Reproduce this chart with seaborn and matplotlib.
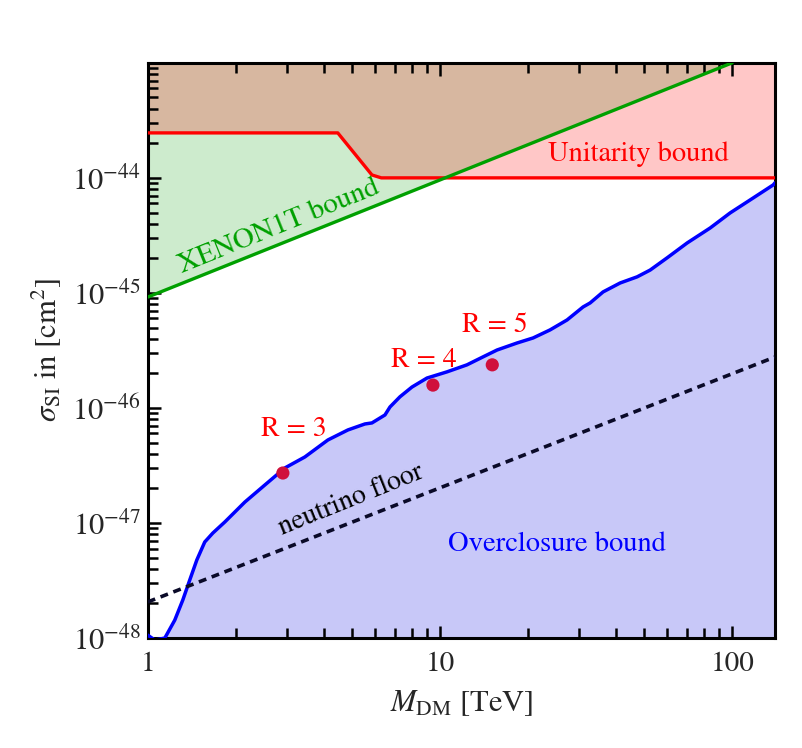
import numpy as np
import matplotlib
matplotlib.use("Agg")
import matplotlib.pyplot as plt
import seaborn as sns
from matplotlib.ticker import FixedLocator, LogLocator, NullFormatter

# overclosure (relic abundance) curve
mass = [1.000, 1.057, 1.144, 1.237, 1.318, 1.392, 1.472, 1.567, 1.670, 1.835,
        2.149, 2.516, 2.946, 3.449, 4.135, 4.841, 5.536, 5.850, 6.482, 6.745,
        7.295, 8.020, 9.027, 10.57, 12.37, 14.04, 15.68, 18.35, 20.83, 23.81,
        27.22, 30.88, 32.64, 36.15, 41.35, 47.29, 52.39, 59.91, 70.15, 84.09,
        98.4, 115.3, 138.2, 140.0]
sigma_relic = [1.06e-48, 0.96e-48, 1.00e-48, 1.43e-48, 2.14e-48, 3.19e-48,
               4.77e-48, 6.84e-48, 8.18e-48, 1.02e-47, 1.52e-47, 2.14e-47,
               3.01e-47, 3.75e-47, 5.27e-47, 6.44e-47, 7.26e-47, 7.41e-47,
               8.69e-47, 1.02e-46, 1.25e-46, 1.52e-46, 1.82e-46, 2.06e-46,
               2.37e-46, 2.78e-46, 3.19e-46, 3.67e-46, 4.06e-46, 4.77e-46,
               5.82e-46, 7.55e-46, 8.18e-46, 1.02e-45, 1.22e-45, 1.38e-45,
               1.58e-45, 2.02e-45, 2.72e-45, 3.67e-45, 4.96e-45, 6.44e-45,
               8.69e-45, 9.05e-45]

# unitarity bound
unit_mass = [1.0, 4.47, 5.85, 6.3, 140.0]
unit_sigma = [2.46e-44, 2.46e-44, 1.06e-44, 1.0e-44, 1.0e-44]

# XENON1T bound
xenon_mass = [1.0, 100.0]
xenon_sigma = [9.2e-46, 1.0e-43]

# neutrino floor
nu_mass = [1.0, 140.0]
nu_sigma = [2.06e-48, 2.77e-46]

# benchmark points
bench_mass = [2.9, 9.46, 15.1]
bench_sigma = [2.72e-47, 1.58e-46, 2.37e-46]
bench_labels = ["R = 3", "R = 4", "R = 5"]

sns.set_theme(style="ticks")
plt.rcParams["font.family"] = ["STIXGeneral", "DejaVu Serif"]
plt.rcParams["mathtext.fontset"] = "stix"

fig = plt.figure(figsize=(8.03, 7.48), dpi=100)
ax = fig.add_axes([0.184, 0.147, 0.781, 0.769])
ax.set_axisbelow(False)
ax.set_xscale("log")
ax.set_yscale("log")
xmin, xmax = 1.0, 140.0
ymin, ymax = 1e-48, 1e-43

# filled regions
ax.fill_between(xenon_mass, xenon_sigma, ymax, color="#CDEBCD", lw=0, zorder=1)
ax.fill_between(unit_mass, unit_sigma, ymax, color="red", alpha=0.22, lw=0, zorder=2)
ax.fill_between(mass, sigma_relic, 1e-50, color="#C8C8F8", lw=0, zorder=1)

ax.plot(unit_mass, unit_sigma, color="red", lw=2.4, zorder=3)
ax.plot(xenon_mass, xenon_sigma, color="#00A000", lw=2.4, zorder=4)
sns.lineplot(x=mass, y=sigma_relic, color="blue", lw=2.5, ax=ax, zorder=5,
             solid_joinstyle="round")
ax.plot(nu_mass, nu_sigma, color="#0A0A28", lw=2.6, ls=(0, (2.2, 1.6)), zorder=5)
sns.scatterplot(x=bench_mass, y=bench_sigma, color="#D0103C", s=90,
                edgecolor="none", ax=ax, zorder=6)

ax.set_xlim(xmin, xmax)
ax.set_ylim(ymin, ymax)

# text annotations
ax.text(0.209, 0.715, "XENON1T bound", color="#00A000", fontsize=21,
        rotation=22, ha="center", va="center", transform=ax.transAxes)
ax.text(0.782, 0.842, "Unitarity bound", color="red", fontsize=20.5,
        ha="center", va="center", transform=ax.transAxes)
ax.text(0.324, 0.240, "neutrino floor", color="black", fontsize=20,
        rotation=22, ha="center", va="center", transform=ax.transAxes)
ax.text(0.652, 0.162, "Overclosure bound", color="blue", fontsize=20.5,
        ha="center", va="center", transform=ax.transAxes)
for lab, pos in zip(bench_labels, [(0.233, 0.362), (0.440, 0.482), (0.553, 0.543)]):
    ax.text(pos[0], pos[1], lab, color="red", fontsize=20,
            ha="center", va="center", transform=ax.transAxes)

# axes styling
for side in ["left", "bottom", "top", "right"]:
    ax.spines[side].set_linewidth(2.2)
    ax.spines[side].set_color("black")
ax.xaxis.set_major_locator(FixedLocator([1, 10, 100]))
ax.set_xticklabels(["1", "10", "100"])
ax.xaxis.set_minor_locator(LogLocator(base=10, subs=np.arange(2, 10), numticks=20))
ax.xaxis.set_minor_formatter(NullFormatter())
ax.yaxis.set_major_locator(FixedLocator([1e-48, 1e-47, 1e-46, 1e-45, 1e-44]))
ax.set_yticklabels([r"$10^{-48}$", r"$10^{-47}$", r"$10^{-46}$",
                    r"$10^{-45}$", r"$10^{-44}$"])
ax.yaxis.set_minor_locator(LogLocator(base=10, subs=np.arange(2, 10), numticks=20))
ax.yaxis.set_minor_formatter(NullFormatter())
ax.tick_params(axis="both", which="both", direction="in", width=1.8,
               top=True, right=False, color="black")
ax.tick_params(axis="x", which="major", labelsize=21)
ax.tick_params(axis="y", which="major", labelsize=22)
ax.tick_params(axis="both", which="major", length=9)
ax.tick_params(axis="both", which="minor", length=7)
ax.tick_params(axis="x", which="both", pad=10)
ax.tick_params(axis="y", which="both", pad=5)

ax.set_xlabel(r"$M_{\rm DM}$ [TeV]", fontsize=22, labelpad=8)
ax.set_ylabel(r"$\sigma_{\rm SI}$ in [cm$^2$]", fontsize=22, labelpad=6)

fig.savefig("out.png", dpi=100)
